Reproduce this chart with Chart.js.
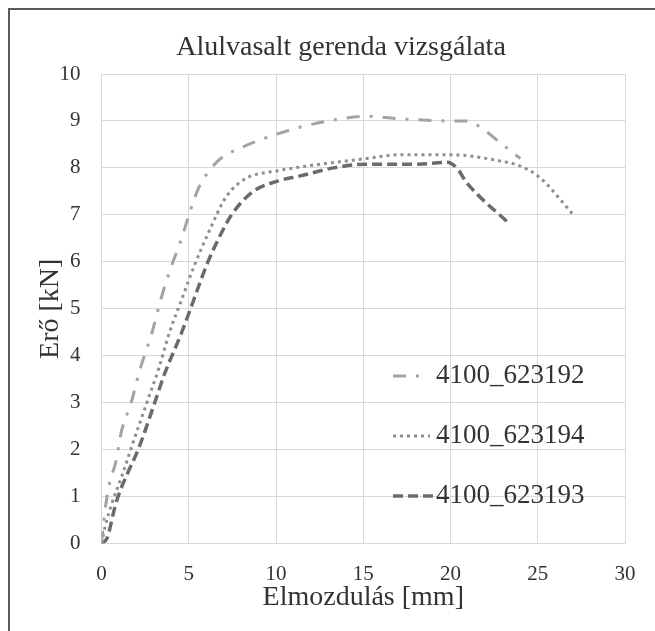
<!DOCTYPE html>
<html><head><meta charset="utf-8">
<script src="https://cdn.jsdelivr.net/npm/chart.js@4"></script>
<style>
html,body{margin:0;padding:0;background:#fff;}
#wrap{position:relative;width:655px;height:631px;overflow:hidden;}
#frame{position:absolute;left:8px;top:8px;right:-4px;bottom:-4px;border-top:2px solid #5b5b5b;border-left:2px solid #5b5b5b;pointer-events:none;}
canvas{position:absolute;left:0;top:0;}
</style></head>
<body><div id="wrap"><canvas id="c" width="655" height="631"></canvas><div id="frame"></div></div>
<script>
// ---- data ----
const chartTitle = 'Alulvasalt gerenda vizsgálata';
const xTitle = 'Elmozdulás [mm]';
const yTitle = 'Erő [kN]';
const seriesLabels = ['4100_623192', '4100_623194', '4100_623193'];

const xA = [0, 0.2, 0.5, 0.8, 1.15, 1.7, 2.2, 2.9, 3.4, 4.0, 4.5, 5.1, 5.6, 6.3, 7.0, 7.8, 9.5, 11.4, 13.0, 15.2, 17.0, 20.0, 20.9, 21.7, 22.8, 24.0];
const yA = [0, 0.7, 1.35, 1.7, 2.4, 3.0, 3.7, 4.5, 5.2, 5.9, 6.4, 7.1, 7.6, 8.0, 8.25, 8.4, 8.65, 8.87, 9.0, 9.1, 9.05, 9.0, 9.0, 8.87, 8.55, 8.2];

const xB = [0, 0.2, 0.6, 1.15, 1.8, 2.6, 3.3, 3.9, 4.6, 5.3, 6.3, 7.0, 7.5, 8.4, 10.1, 11.4, 13.0, 15.2, 17.1, 20.0, 22.8, 24.0, 25.1, 27.0];
const yB = [0, 0.35, 0.86, 1.42, 2.14, 3.0, 3.75, 4.5, 5.2, 5.9, 6.76, 7.3, 7.55, 7.8, 7.94, 8.02, 8.1, 8.2, 8.28, 8.28, 8.15, 8.04, 7.8, 7.02];

const xC = [0, 0.3, 0.5, 0.65, 0.95, 1.5, 2.1, 3.05, 3.6, 4.6, 5.15, 6.1, 6.8, 7.45, 8.7, 10.1, 11.4, 13.3, 15.2, 18.1, 19.8, 20.4, 20.9, 23.4];
const yC = [0, 0.1, 0.35, 0.6, 1.0, 1.5, 2.0, 3.0, 3.6, 4.5, 5.05, 6.0, 6.56, 7.0, 7.5, 7.72, 7.83, 8.0, 8.08, 8.08, 8.12, 7.98, 7.7, 6.8];

const xMin = 0, xMax = 30, xStep = 5;
const yMin = 0, yMax = 10, yStep = 1;

// ---- styles ----
const FONT = '"Liberation Serif", "Times New Roman", serif';
const TEXT = '#333333';
const GRID = '#d9d9d9';
const lineStyles = [
  {color: '#a3a3a3', dash: [13, 10, 3, 10], width: 3},
  {color: '#8e8e8e', dash: [3, 4], width: 3},
  {color: '#6b6b6b', dash: [10, 5], width: 3.5}
];
const LEG = {x0: 393, x1: [423, 430, 434], tx: 436, top: 376, gap: 60, size: 27};

function pts(xs, ys) { return xs.map((x, i) => ({x: x, y: ys[i]})); }
const seriesData = [pts(xA, yA), pts(xB, yB), pts(xC, yC)];

const datasets = seriesData.map((d, i) => ({
  label: seriesLabels[i],
  data: d,
  borderColor: lineStyles[i].color,
  borderDash: lineStyles[i].dash,
  borderWidth: lineStyles[i].width,
  pointRadius: 0,
  fill: false,
  cubicInterpolationMode: 'monotone',
  borderCapStyle: 'butt'
}));

const inlineLegend = {
  id: 'inlineLegend',
  afterDraw(chart) {
    const ctx = chart.ctx;
    ctx.save();
    ctx.font = LEG.size + 'px ' + FONT;
    ctx.fillStyle = TEXT;
    ctx.textBaseline = 'middle';
    ctx.textAlign = 'left';
    chart.data.datasets.forEach((ds, i) => {
      const y = LEG.top + i * LEG.gap;
      ctx.beginPath();
      ctx.setLineDash(ds.borderDash || []);
      ctx.lineWidth = ds.borderWidth;
      ctx.strokeStyle = ds.borderColor;
      ctx.moveTo(LEG.x0, y);
      ctx.lineTo(LEG.x1[i], y);
      ctx.stroke();
      ctx.setLineDash([]);
      ctx.fillText(ds.label, LEG.tx, y);
    });
    ctx.restore();
  }
};

new Chart(document.getElementById('c'), {
  type: 'line',
  data: {datasets: datasets},
  plugins: [inlineLegend],
  options: {
    responsive: false,
    animation: false,
    devicePixelRatio: 1,
    layout: {padding: {left: 27, right: 0, top: 0, bottom: 0}},
    plugins: {
      legend: {display: false},
      tooltip: {enabled: false},
      title: {
        display: true,
        text: chartTitle,
        color: TEXT,
        font: {family: FONT, size: 28, weight: 'normal'},
        padding: {top: 31, bottom: 9.4}
      }
    },
    scales: {
      x: {
        type: 'linear',
        min: xMin, max: xMax,
        ticks: {stepSize: xStep, color: TEXT, font: {family: FONT, size: 21}, padding: 18.4, maxRotation: 0},
        grid: {color: GRID, lineWidth: 1, drawTicks: false},
        border: {color: GRID},
        title: {display: true, text: xTitle, color: TEXT, font: {family: FONT, size: 28}, padding: {top: 0, bottom: 16.5}},
        afterFit(s) { s.height = 87.5; }
      },
      y: {
        type: 'linear',
        min: yMin, max: yMax,
        ticks: {stepSize: yStep, color: TEXT, font: {family: FONT, size: 21}, padding: 21},
        grid: {color: GRID, lineWidth: 1, drawTicks: false},
        border: {color: GRID},
        title: {display: true, text: yTitle, color: TEXT, font: {family: FONT, size: 28}, padding: {top: 7, bottom: 0}},
        afterFit(s) { s.width = 74.5; }
      },
      y2: {
        position: 'right',
        display: true,
        grid: {display: false, drawTicks: false},
        border: {display: false},
        ticks: {display: false},
        afterFit(s) { s.width = 30; }
      }
    }
  }
});
</script>
</body></html>
